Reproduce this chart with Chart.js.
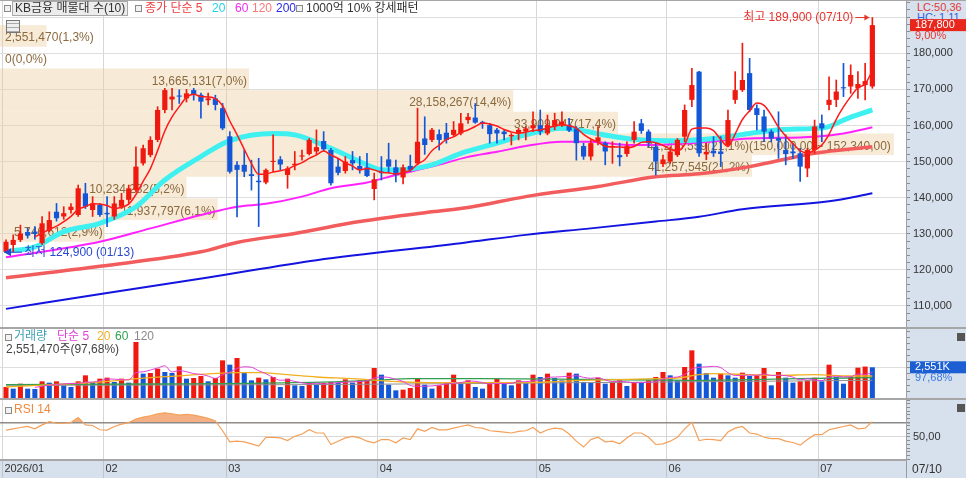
<!DOCTYPE html>
<html lang="ko">
<head>
<meta charset="utf-8">
<title>KB금융</title>
<script src="https://cdn.jsdelivr.net/npm/chart.js@4.4.1/dist/chart.umd.min.js"></script>
<style>
  body { margin: 0; width: 966px; height: 478px; overflow: hidden; position: relative; background: #fff;
         font-family: "Liberation Sans", "Noto Sans CJK KR", sans-serif; font-size: 12px; }
  canvas, .abs { position: absolute; }
  .axisbg { background: #d7e1ed; }
  .sep { background: #a6a6a6; }
  .t { position: absolute; white-space: nowrap; line-height: 13px; }
  .sq { position: absolute; width: 5px; height: 5px; border: 1px solid #8a8a8a; background: #f2f2f2; }
</style>
</head>
<body>
<div class="abs axisbg" style="left:906px;top:0;width:60px;height:461px"></div>
<div class="abs axisbg" style="left:0;top:461px;width:966px;height:17px"></div>
<div class="t" style="left:917px;top:1px;color:#e03a3a;font-size:11px">LC:50,36</div>
<div class="t" style="left:917px;top:11px;color:#2f62e0;font-size:11px">HC: 1,11</div>

<canvas id="mainChart" width="966" height="327" style="left:0;top:0"></canvas>
<canvas id="volChart" width="966" height="69" style="left:0;top:329px"></canvas>
<canvas id="rsiChart" width="966" height="78" style="left:0;top:400px"></canvas>

<div class="abs sep" style="left:0;top:0;width:966px;height:1px"></div>
<div class="abs sep" style="left:0;top:327px;width:966px;height:2px"></div>
<div class="abs sep" style="left:0;top:398px;width:966px;height:2px"></div>
<div class="abs" style="left:906px;top:461px;width:1px;height:17px;background:#999"></div>

<!-- price legend -->
<div class="sq" style="left:4px;top:5px"></div>
<div class="t" style="left:12px;top:1px;padding:0 2px;border:1px solid #a9a9a9;background:#ececec;color:#333">KB금융 매물대 수(10)</div>
<div class="sq" style="left:135px;top:5px"></div>
<div class="t" style="left:145px;top:2px;color:#f03c3c">종가 단순 5</div>
<div class="t" style="left:212px;top:2px;color:#22d3e6">20</div>
<div class="t" style="left:235px;top:2px;color:#f02cf0">60</div>
<div class="t" style="left:252px;top:2px;color:#f47a7a">120</div>
<div class="t" style="left:276px;top:2px;color:#2a2ae8">200</div>
<div class="sq" style="left:296px;top:5px"></div>
<div class="t" style="left:306px;top:2px;color:#333">1000억 10% 강세패턴</div>
<div class="abs" style="left:6px;top:20px;width:12px;height:11px;border:1px solid #777;background:repeating-linear-gradient(0deg,#aaa 0 1px,#eee 1px 4px)"></div>

<!-- volume legend -->
<div class="sq" style="left:5px;top:334px"></div>
<div class="t" style="left:14px;top:330px;color:#3fa0b5">거래량</div>
<div class="t" style="left:57px;top:330px;color:#e040d8">단순 5</div>
<div class="t" style="left:97px;top:330px;color:#f0b020">20</div>
<div class="t" style="left:115px;top:330px;color:#30a050">60</div>
<div class="t" style="left:134px;top:330px;color:#8a8a8a">120</div>
<div class="t" id="volInfo" style="left:6px;top:343px;color:#444"></div>
<div class="abs" style="left:957px;top:333px;width:8px;height:8px;background:#555"></div>

<!-- rsi legend -->
<div class="sq" style="left:5px;top:407px"></div>
<div class="t" style="left:14px;top:403px;color:#f0883c">RSI 14</div>
<div class="abs" style="left:957px;top:404px;width:8px;height:8px;background:#555"></div>

<div class="t" style="left:912px;top:463px;color:#333">07/10</div>

<script>
// daily candles, 2026-01-13 .. 2026-07-10
var opens = [125000,126900,128300,130500,130600,127400,131000,136100,134800,136600,
  135200,141200,136600,138000,135800,134800,137500,139400,142100,149500,
  151800,156000,164300,167200,168300,167500,169800,168500,167000,167500,
  164800,157000,149100,149100,146500,144700,144200,149900,150600,146300,
  149000,151400,152100,152800,155700,153200,148600,147400,150400,148800,
  148400,142400,147200,150600,148400,145600,148800,149500,156400,156000,
  157600,158000,157400,157800,161500,162200,161000,160100,158800,158300,
  157000,157800,158300,159200,160100,157800,159700,160100,160100,159200,
  154300,151400,155500,155100,154000,151800,152100,156000,160600,158300,
  154100,149300,150000,151800,156900,167100,174900,152000,153000,152800,
  154600,167100,169800,174500,164800,162500,158300,156500,153200,152800,
  152300,148100,153200,160600,165700,167100,170600,170800,170300,171200,
  170800];
var highs = [128300,129700,132400,131500,132000,134800,136100,138400,137500,138400,
  143500,144000,140300,138400,140300,140300,141200,143500,154100,154600,
  156900,165200,170300,170300,169900,170000,170300,169000,169000,168400,
  166100,158300,150000,153200,150400,150900,148000,157400,151400,148600,
  152800,153200,156400,158800,158300,153700,150900,151400,152800,151400,
  152300,146800,151400,155100,150400,149100,151800,164800,162400,159200,
  158800,160600,161100,163400,163400,166100,161200,160600,159200,158800,
  157800,159200,159700,163800,164300,162900,163400,163800,162000,159700,
  155100,156000,159700,155500,155500,155100,155500,161100,161700,158800,
  155100,151800,154100,156400,165700,175800,175000,155100,156900,156900,
  164300,174900,182800,178600,165700,164300,158800,163800,157400,155100,
  153700,153700,161500,162900,173500,172600,177200,176800,174900,177200,
  189900];
var lows = [124900,125000,127800,128800,128500,127000,130500,133500,134000,135700,
  134800,137000,134800,134800,132000,134000,137000,138400,141500,149000,
  151300,155500,163500,164300,166100,166500,167000,162000,165700,164300,
  158800,146800,134700,145800,142100,132000,143800,147200,147700,142600,
  147700,150400,151800,151800,153000,143500,146300,146800,147700,146800,
  145800,139400,144900,146800,144400,143800,147200,149100,152000,155500,
  153200,155100,156900,157400,160600,160600,159200,155100,155100,156000,
  154600,156000,156000,158300,157400,157400,158800,159700,158300,150400,
  150600,150400,154600,149100,149500,148800,151400,155100,157800,154100,
  146300,148600,149500,151400,155500,165200,151400,150500,151400,148600,
  154100,166100,169400,163800,158800,155500,155500,150900,149100,150900,
  144500,145800,152300,155500,164300,165200,168000,168900,167500,167100,
  170300];
var closes = [127800,128300,130100,129500,130000,132900,133800,134300,135700,137500,
  142600,137500,138400,135200,135400,138400,139400,142600,148600,153700,
  156000,164300,169800,168000,168000,168900,168500,166600,167500,165700,
  159200,147200,147700,147200,146000,144300,147700,150200,149200,148100,
  149400,151700,156000,154000,153400,144000,146900,150000,149500,147900,
  146000,145100,146800,148600,146300,148400,147700,155500,154600,158800,
  156000,156000,158800,160600,162400,160800,160700,157600,157800,157600,
  157400,158800,159200,160100,158300,160100,161500,161100,158600,155100,
  151400,155100,156700,152800,154300,151200,154300,158300,158500,155100,
  150000,150600,152800,156000,164300,171200,152300,152700,152300,152100,
  161500,169800,172600,164300,162900,158300,156400,155800,152100,152300,
  148600,153200,159700,159200,167100,169400,170300,174000,171500,172300,
  187800];
var volumes = [914000,776000,1191000,776000,748000,1385000,1274000,1385000,1053000,914000,
  1385000,1884000,1330000,1607000,1690000,1330000,1607000,1274000,4654000,2022000,
  2078000,2438000,2161000,2078000,2632000,1607000,1662000,1828000,1385000,1662000,
  3130000,2770000,3324000,2078000,1468000,1690000,1551000,1745000,914000,1607000,
  1053000,997000,1330000,1191000,1247000,1330000,1274000,1551000,1274000,1468000,
  1551000,2493000,1939000,1108000,637000,693000,831000,1607000,1108000,776000,
  1053000,1274000,1939000,1330000,1468000,914000,776000,1330000,1607000,1330000,
  1053000,1468000,1330000,1939000,1745000,2022000,1662000,1468000,2105000,2022000,
  1330000,1274000,1690000,1191000,1330000,1468000,997000,1330000,1274000,1468000,
  1745000,2161000,1884000,1468000,2576000,3961000,2853000,2078000,1690000,2022000,
  1884000,1690000,2105000,1828000,1884000,2493000,1053000,2161000,1690000,1274000,
  1385000,1468000,1690000,1385000,2770000,1745000,1191000,1745000,2521000,2612000,
  2551470];
var rsi = [59.4,61.1,62.9,64.3,61.1,66.5,70.9,68.7,68.7,69.6,
  76.3,66.5,65.6,59.8,59.4,64.3,67.4,69.6,74.5,77.1,
  78.9,81.6,82.9,81.6,79.8,80.7,79.8,77.6,75.4,71.8,
  58.5,43.4,44.3,43.4,40.7,37.6,49.6,49.6,48.7,45.1,
  50.9,54.0,59.8,55.4,55.4,39.8,44.3,48.7,50.9,48.7,
  44.3,42.0,46.5,46.5,42.0,48.7,46.5,61.1,57.6,62.9,
  59.8,59.8,62.0,64.3,66.5,62.9,62.0,58.5,57.6,56.7,
  55.4,57.6,58.5,62.9,55.4,59.8,62.0,61.1,54.0,44.3,
  36.3,46.5,49.6,43.4,44.3,40.7,48.7,55.4,55.4,49.6,
  39.8,40.7,44.3,49.6,61.1,70.0,45.1,46.9,46.5,45.1,
  56.7,62.0,64.3,55.4,54.0,49.6,47.8,47.8,44.3,42.5,
  38.9,46.5,53.1,53.1,59.8,62.0,64.3,66.5,61.1,62.0,
  70.9];

// longer moving averages (day index, value)
var ma20Idx = [0,4,8,13,18,22,27,31,37,40,45,50,52,54,59,63,68,72,77,79,84,88,93,98,103,107,112,114,116,120];
var ma20Val = [125100,126400,130600,132900,137500,144900,151400,155800,157800,157400,153700,149100,147700,147700,149100,152300,155100,157400,159200,158800,157000,156000,155800,156400,157800,158800,159200,159700,161500,164300];
var ma60Idx = [0,13,20,27,32,36,41,45,50,54,59,64,68,72,77,81,86,90,95,103,112,116,120];
var ma60Val = [123500,127800,131500,135200,137500,138300,140300,142600,144200,146300,148600,151300,152700,154300,155500,155500,154600,154600,155100,156400,156900,157800,159500];
var ma120Idx = [0,13,27,32,40,49,59,64,72,82,90,96,103,112,120];
var ma120Val = [117800,121000,125000,127600,130100,133400,136100,137300,140300,143100,145800,146600,148600,152300,154100];
var ma200Idx = [0,14,28,43,63,72,81,90,96,102,114,120];
var ma200Val = [109200,113600,117900,122700,127400,129700,131500,133400,134700,136800,139000,141200];

var vma20Idx = [0,13,20,25,32,35,39,43,48,55,59,66,75,80,84,90,93,96,98,103,107,112,117,120];
var vma20Val = [914000,1330000,1690000,1884000,2105000,2105000,1939000,1745000,1607000,1330000,1274000,1274000,1330000,1468000,1524000,1607000,1662000,1939000,2022000,1939000,1884000,1939000,1828000,1828000];
var vma60Idx = [0,20,40,51,56,66,80,95,110,120];
var vma60Val = [1108000,1163000,1274000,1468000,1607000,1607000,1551000,1468000,1607000,1690000];
var vma120Idx = [0,40,80,120];
var vma120Val = [1053000,1108000,1274000,1468000];

// volume at price, 10 bins from the lowest to the highest close (top bin first)
var profileRange = [127800, 187800];
var profileVolume = [2551470, 0, 13665131, 28158267, 33909947, 41206559, 41257545, 10234282, 11937797, 5746612];
var profilePct = [1.3, 0.0, 7.0, 14.4, 17.4, 21.1, 21.2, 5.2, 6.1, 2.9];
var profileNoteBin = 5;
var profileNote = '(150,000,00 ~ 152,340,00)';

var monthLabels = ['2026/01', '02', '03', '04', '05', '06', '07'];
var monthStart = [0, 14, 31, 52, 74, 92, 113];
var markDates = ['01/13', '07/10'];

var FONT = '12px "Liberation Sans", "Noto Sans CJK KR", sans-serif';
var AXIS_FONT = '11px "Liberation Sans", "Noto Sans CJK KR", sans-serif';
Chart.defaults.font.family = '"Liberation Sans", "Noto Sans CJK KR", sans-serif';
Chart.defaults.font.size = 11;
Chart.defaults.color = '#333';
Chart.defaults.animation = false;

var UP = '#f0190f', DOWN = '#1357d8';
var N = closes.length;
var X_MIN = -0.83, X_MAX = N + 3.66;
var lastClose = closes[N - 1];

function fmt(n) { return n.toLocaleString('en-US'); }
function pts(idx, val) { return idx.map(function (x, k) { return {x: x, y: val[k]}; }); }
function candleColor(i) { return closes[i] >= opens[i] ? UP : DOWN; }
function isStep(v, step) { return Math.abs(Math.round(v / step) * step - v) < 1e-6; }

var ma5 = [];
for (var i = 4; i < N; i++) {
  ma5.push({x: i, y: (closes[i] + closes[i-1] + closes[i-2] + closes[i-3] + closes[i-4]) / 5});
}
var vma5 = [];
for (var i = 4; i < N; i++) {
  vma5.push({x: i, y: (volumes[i] + volumes[i-1] + volumes[i-2] + volumes[i-3] + volumes[i-4]) / 5});
}

function xAxis(withLabels) {
  return {
    type: 'linear', min: X_MIN, max: X_MAX, offset: false, bounds: 'data',
    afterBuildTicks: function (s) { s.ticks = monthStart.map(function (m) { return {value: m - 0.5}; }); },
    afterFit: function (s) { s.height = withLabels ? 18 : 0; s.paddingLeft = 0; s.paddingRight = 0; },
    grid: {offset: false, color: '#d6d6d6', drawTicks: withLabels, tickLength: 18, tickColor: '#c4c4c4'},
    border: {display: withLabels, color: '#a6a6a6', width: 2},
    ticks: {display: withLabels, autoSkip: false, maxRotation: 0, align: 'start', labelOffset: 2, padding: -16,
            color: '#333', callback: function (v, k) { return monthLabels[k]; }}
  };
}
function fitY(s) { s.width = 60; s.paddingTop = 0; s.paddingBottom = 0; }

function line(data, color, width, order) {
  return {type: 'line', data: data, borderColor: color, borderWidth: width, pointRadius: 0,
          cubicInterpolationMode: 'monotone', order: order};
}

var profilePlugin = {
  id: 'profile',
  beforeDatasetsDraw: function (chart) {
    var ctx = chart.ctx, a = chart.chartArea, y = chart.scales.y;
    var n = profileVolume.length;
    var step = (profileRange[1] - profileRange[0]) / n;
    var maxV = Math.max.apply(null, profileVolume);
    var beige = 'rgba(236,205,160,0.42)';
    ctx.save();
    ctx.font = FONT;
    ctx.textBaseline = 'middle';
    profileVolume.forEach(function (v, k) {
      var top = y.getPixelForValue(profileRange[1] - k * step);
      var bot = y.getPixelForValue(profileRange[1] - (k + 1) * step);
      var w = v / maxV * a.width * 0.83;
      ctx.fillStyle = beige;
      if (w > 0) ctx.fillRect(a.left, top, w, bot - top);
      var txt = fmt(v) + '(' + profilePct[k].toFixed(1).replace('.', ',') + '%)';
      var tw = ctx.measureText(txt).width;
      var tx = tw + 8 < w ? a.left + w - tw - 2 : a.left + 5;
      var ty = (top + bot) / 2 + 2;
      if (k === profileNoteBin) {
        var nw = ctx.measureText(profileNote).width;
        ctx.fillStyle = beige;
        ctx.fillRect(a.left + w, top, tx + tw + nw + 3 - a.left - w, bot - top);
      }
      ctx.fillStyle = '#8b6a3e';
      ctx.fillText(txt, tx, ty);
      if (k === profileNoteBin) ctx.fillText(profileNote, tx + tw, ty);
    });
    ctx.restore();
  }
};

var markPlugin = {
  id: 'marks',
  afterDraw: function (chart) {
    var ctx = chart.ctx, a = chart.chartArea, x = chart.scales.x, y = chart.scales.y;
    var hi = 0, lo = 0;
    highs.forEach(function (h, i) { if (h > highs[hi]) hi = i; });
    lows.forEach(function (l, i) { if (l < lows[lo]) lo = i; });
    ctx.save();
    ctx.font = FONT;
    ctx.textBaseline = 'middle';
    // highest
    var tx = x.getPixelForValue(hi) - 3, ty = y.getPixelForValue(highs[hi]);
    ctx.strokeStyle = ctx.fillStyle = '#e8322c';
    ctx.lineWidth = 1;
    ctx.beginPath(); ctx.moveTo(tx - 14, ty); ctx.lineTo(tx, ty); ctx.stroke();
    ctx.beginPath(); ctx.moveTo(tx, ty); ctx.lineTo(tx - 5, ty - 3); ctx.lineTo(tx - 5, ty + 3); ctx.closePath(); ctx.fill();
    ctx.textAlign = 'right';
    ctx.fillText('최고 ' + fmt(highs[hi]) + ' (' + markDates[1] + ')', tx - 16, ty);
    // lowest
    var lx = x.getPixelForValue(lo) - 2, ly = y.getPixelForValue(lows[lo]);
    ctx.strokeStyle = ctx.fillStyle = '#2a48d0';
    ctx.beginPath(); ctx.moveTo(lx, ly); ctx.lineTo(lx + 18, ly); ctx.stroke();
    ctx.beginPath(); ctx.moveTo(lx, ly); ctx.lineTo(lx + 7, ly - 4); ctx.lineTo(lx + 7, ly + 4); ctx.closePath(); ctx.fill();
    ctx.textAlign = 'left';
    ctx.fillText('최저 ' + fmt(lows[lo]) + ' (' + markDates[0] + ')', lx + 20, ly);
    // last price box on the axis
    ctx.font = AXIS_FONT;
    var cy = y.getPixelForValue(lastClose);
    ctx.fillStyle = '#e8261c';
    ctx.fillRect(a.right + 4, cy - 6, chart.width - a.right - 4, 12);
    ctx.fillStyle = '#fff';
    ctx.fillText(fmt(lastClose), a.right + 9, cy);
    ctx.fillStyle = '#e8322c';
    var chg = (lastClose / closes[N - 2] - 1) * 100;
    ctx.fillText(chg.toFixed(2).replace('.', ',') + '%', a.right + 9, cy + 11);
    ctx.restore();
  }
};

var lastVol = volumes[N - 1];
var volRatio = (lastVol / volumes[N - 2] * 100).toFixed(2).replace('.', ',');
document.getElementById('volInfo').textContent = fmt(lastVol) + '주(' + volRatio + '%)';

var volBoxPlugin = {
  id: 'volBox',
  afterDraw: function (chart) {
    var ctx = chart.ctx, a = chart.chartArea, y = chart.scales.y;
    var vy = y.getPixelForValue(lastVol);
    ctx.save();
    ctx.font = AXIS_FONT;
    ctx.textBaseline = 'middle';
    ctx.fillStyle = '#1b5fd2';
    ctx.fillRect(a.right + 4, vy - 6, chart.width - a.right - 4, 12);
    ctx.fillStyle = '#fff';
    ctx.fillText(fmt(Math.round(lastVol / 1000)) + 'K', a.right + 9, vy);
    ctx.fillStyle = '#3a78e0';
    ctx.fillText(volRatio + '%', a.right + 9, vy + 11);
    ctx.restore();
  }
};

new Chart(document.getElementById('mainChart'), {
  type: 'line',
  data: {
    datasets: [
      {type: 'bar', data: highs.map(function (h, i) { return {x: i, y: [lows[i], h]}; }),
       backgroundColor: function (c) { return candleColor(c.dataIndex); },
       barThickness: 1, grouped: false, order: 2},
      {type: 'bar', data: opens.map(function (o, i) { return {x: i, y: [o, closes[i]]}; }),
       backgroundColor: function (c) { return candleColor(c.dataIndex); },
       barPercentage: 0.72, categoryPercentage: 1, minBarLength: 1, grouped: false, order: 1},
      line(ma5, '#ff1a1a', 1.5, 0),
      line(pts(ma20Idx, ma20Val), '#3ff0f0', 5, 3),
      line(pts(ma60Idx, ma60Val), '#ff22ff', 2, 4),
      line(pts(ma120Idx, ma120Val), '#f25c5c', 3.5, 5),
      line(pts(ma200Idx, ma200Val), '#1414e0', 2, 6)
    ]
  },
  options: {
    responsive: false, maintainAspectRatio: false,
    layout: {padding: 0},
    plugins: {legend: {display: false}, tooltip: {enabled: false}},
    scales: {
      x: xAxis(false),
      y: {
        type: 'linear', position: 'right', min: 104180, max: 194760,
        afterFit: fitY,
        afterBuildTicks: function (s) {
          var t = [];
          for (var v = 106000; v <= 194000; v += 2000) t.push({value: v});
          s.ticks = t;
        },
        border: {color: '#a0a0a0'},
        grid: {color: function (c) { return c.tick && isStep(c.tick.value, 10000) ? '#dedede' : 'rgba(0,0,0,0)'; },
               tickLength: 4, tickColor: '#8c8c8c'},
        ticks: {autoSkip: false, padding: 3, color: '#333',
                callback: function (v) { return isStep(v, 10000) && Math.abs(v - lastClose) > 4000 ? fmt(v) : ''; }}
      }
    }
  },
  plugins: [profilePlugin, markPlugin]
});

new Chart(document.getElementById('volChart'), {
  type: 'line',
  data: {
    datasets: [
      {type: 'bar', data: volumes.map(function (v, i) { return {x: i, y: v}; }),
       backgroundColor: function (c) { var i = c.dataIndex; return i > 0 && volumes[i] < volumes[i - 1] ? DOWN : UP; },
       barPercentage: 0.7, categoryPercentage: 1, order: 5},
      line(vma5, '#e040d8', 1, 1),
      line(pts(vma20Idx, vma20Val), '#f0b020', 1.3, 2),
      line(pts(vma60Idx, vma60Val), '#30a050', 1.3, 3),
      line(pts(vma120Idx, vma120Val), '#909090', 1, 4)
    ]
  },
  options: {
    responsive: false, maintainAspectRatio: false,
    layout: {padding: 0},
    plugins: {legend: {display: false}, tooltip: {enabled: false}},
    scales: {
      x: xAxis(false),
      y: {
        type: 'linear', position: 'right', min: 0, max: 5734000,
        afterFit: fitY,
        afterBuildTicks: function (s) {
          var t = [];
          for (var v = 500000; v <= 5500000; v += 500000) t.push({value: v});
          s.ticks = t;
        },
        border: {color: '#a0a0a0'},
        grid: {color: function (c) { return c.tick && c.tick.value === 2500000 ? '#dedede' : 'rgba(0,0,0,0)'; },
               tickLength: 4, tickColor: '#8c8c8c'},
        ticks: {autoSkip: false, padding: 3, callback: function () { return ''; }}
      }
    }
  },
  plugins: [volBoxPlugin]
});

new Chart(document.getElementById('rsiChart'), {
  type: 'line',
  data: {
    datasets: [
      {data: rsi.map(function (v, i) { return {x: i, y: v}; }),
       borderColor: '#f5a05a', borderWidth: 1.2, pointRadius: 0, tension: 0,
       fill: {target: {value: 70}, above: 'rgba(240,150,90,0.75)', below: 'rgba(0,0,0,0)'}}
    ]
  },
  options: {
    responsive: false, maintainAspectRatio: false,
    layout: {padding: 0},
    plugins: {legend: {display: false}, tooltip: {enabled: false}},
    scales: {
      x: xAxis(true),
      y: {
        type: 'linear', position: 'right', min: 18.7, max: 100.3,
        afterFit: fitY,
        afterBuildTicks: function (s) {
          var t = [];
          for (var v = 20; v <= 100; v += 5) t.push({value: v});
          s.ticks = t;
        },
        border: {color: '#a0a0a0'},
        grid: {color: function (c) {
                 if (!c.tick) return 'rgba(0,0,0,0)';
                 if (c.tick.value === 70) return '#8a8a8a';
                 if (c.tick.value === 50) return '#d8d8d8';
                 return 'rgba(0,0,0,0)';
               },
               lineWidth: function (c) { return c.tick && c.tick.value === 70 ? 1.5 : 1; },
               tickLength: 4, tickColor: '#8c8c8c'},
        ticks: {autoSkip: false, padding: 3,
                callback: function (v) { return v === 50 ? '50,00' : ''; }}
      }
    }
  }
});
</script>
</body>
</html>
